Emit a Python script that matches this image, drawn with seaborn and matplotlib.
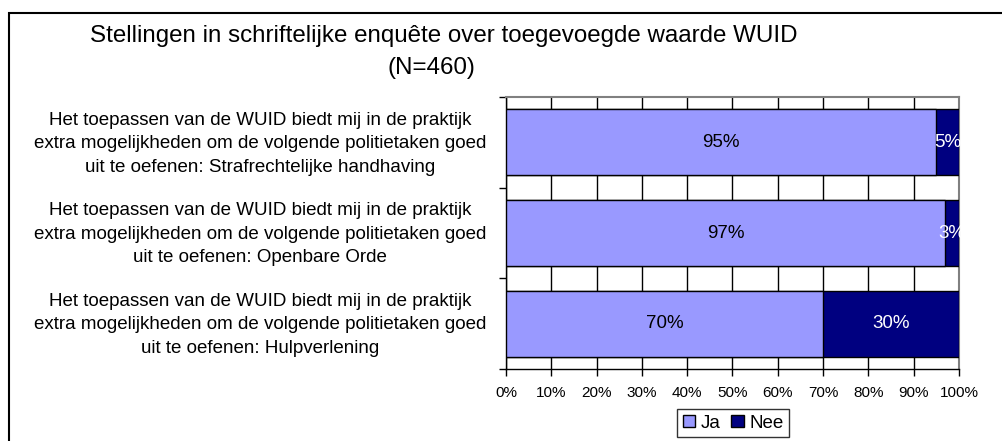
import matplotlib
matplotlib.use("Agg")
import matplotlib.pyplot as plt
import matplotlib.transforms as mtransforms
from matplotlib.patches import Rectangle
from matplotlib.ticker import FixedLocator, PercentFormatter
import pandas as pd
import seaborn as sns

# Survey statements (N=460): share answering "Ja" / "Nee"
categories = [
    "Het toepassen van de WUID biedt mij in de praktijk\nextra mogelijkheden om de volgende politietaken goed\nuit te oefenen: Strafrechtelijke handhaving",
    "Het toepassen van de WUID biedt mij in de praktijk\nextra mogelijkheden om de volgende politietaken goed\nuit te oefenen: Openbare Orde",
    "Het toepassen van de WUID biedt mij in de praktijk\nextra mogelijkheden om de volgende politietaken goed\nuit te oefenen: Hulpverlening",
]
ja = [95, 97, 70]
nee = [5, 3, 30]
series_names = ["Ja", "Nee"]
x_ticks = [0, 10, 20, 30, 40, 50, 60, 70, 80, 90, 100]
title_line1 = "Stellingen in schriftelijke enquête over toegevoegde waarde WUID"
title_line2 = "(N=460)"

JA_COLOR = "#9999FF"
NEE_COLOR = "#000080"

sns.set_theme(style="white")
plt.rcParams["font.family"] = ["Liberation Sans", "DejaVu Sans"]
plt.rcParams["text.color"] = "black"
plt.rcParams["xtick.color"] = "black"
plt.rcParams["ytick.color"] = "black"
plt.rcParams["xtick.labelcolor"] = "black"
plt.rcParams["ytick.labelcolor"] = "black"

df = pd.DataFrame({"stelling": categories, "Ja": ja, "Nee": nee})
df["totaal"] = df["Ja"] + df["Nee"]

fig = plt.figure(figsize=(10.03, 4.41), dpi=100)
ax = fig.add_axes([506 / 1003, 1 - 369 / 441, (959 - 506) / 1003, (369 - 97) / 441])

# Stacked bars: full total in "Nee" colour, then "Ja" on top of it
sns.barplot(data=df, x="totaal", y="stelling", color=NEE_COLOR, edgecolor="black",
            linewidth=1, width=0.73, saturation=1, ax=ax, zorder=3)
sns.barplot(data=df, x="Ja", y="stelling", color=JA_COLOR, edgecolor="black",
            linewidth=1, width=0.73, saturation=1, ax=ax, zorder=4)

# Value labels
for i, (j, n) in enumerate(zip(ja, nee)):
    ax.text(j / 2, i, f"{j}%", ha="center", va="center", fontsize=13.5,
            color="black", zorder=6)
    ax.text(j + n / 2, i, f"{n}%", ha="center", va="center", fontsize=13.5,
            color="white", zorder=6)

ax.set_xlim(0, 100)
ax.set_ylim(2.5, -0.5)
ax.set_xlabel("")
ax.set_ylabel("")
ax.xaxis.set_major_locator(FixedLocator(x_ticks))
ax.xaxis.set_major_formatter(PercentFormatter(decimals=0))
ax.grid(axis="x", color="black", linewidth=1, zorder=0)
ax.grid(axis="y", visible=False)
ax.tick_params(axis="x", which="major", direction="out", length=5, width=1,
               color="black", labelsize=11, pad=7, bottom=True)
ax.tick_params(axis="y", which="major", length=0, labelsize=13.5, pad=14)
ax.yaxis.set_minor_locator(FixedLocator([-0.5, 0.5, 1.5, 2.5]))
ax.tick_params(axis="y", which="minor", direction="out", length=5, width=1,
               color="black", left=True)
lift = mtransforms.ScaledTranslation(0, 4 / 100, fig.dpi_scale_trans)
for lbl in ax.get_yticklabels():
    lbl.set_multialignment("center")
    lbl.set_linespacing(1.5)
    lbl.set_transform(lbl.get_transform() + lift)

for side in ("left", "bottom"):
    ax.spines[side].set_color("black")
    ax.spines[side].set_linewidth(1)
for side in ("top", "right"):
    ax.spines[side].set_color("#808080")
    ax.spines[side].set_linewidth(1.5)

# Legend
handles = [Rectangle((0, 0), 1, 1, facecolor=JA_COLOR, edgecolor="black", linewidth=1),
           Rectangle((0, 0), 1, 1, facecolor=NEE_COLOR, edgecolor="black", linewidth=1)]
leg = fig.legend(handles, series_names, loc="center", bbox_to_anchor=(733 / 1003, 1 - 423 / 441),
                 ncol=2, frameon=True, fontsize=13.5, handlelength=0.65, handleheight=0.65,
                 handletextpad=0.3, columnspacing=0.6, borderpad=0.3, fancybox=False)
leg.get_frame().set_edgecolor("black")
leg.get_frame().set_linewidth(1)

# Title
fig.text(444 / 1003, 1 - 36 / 441, title_line1, ha="center", va="center", fontsize=17.4)
fig.text(431 / 1003, 1 - 68 / 441, title_line2, ha="center", va="center", fontsize=17.4)

# Outer chart border
fig.add_artist(Rectangle((9 / 1003, -0.05), 1.05, 1 - 13 / 441 + 0.05, transform=fig.transFigure,
                         fill=False, edgecolor="black", linewidth=1.5, clip_on=False))

fig.savefig("out.png", dpi=100)
